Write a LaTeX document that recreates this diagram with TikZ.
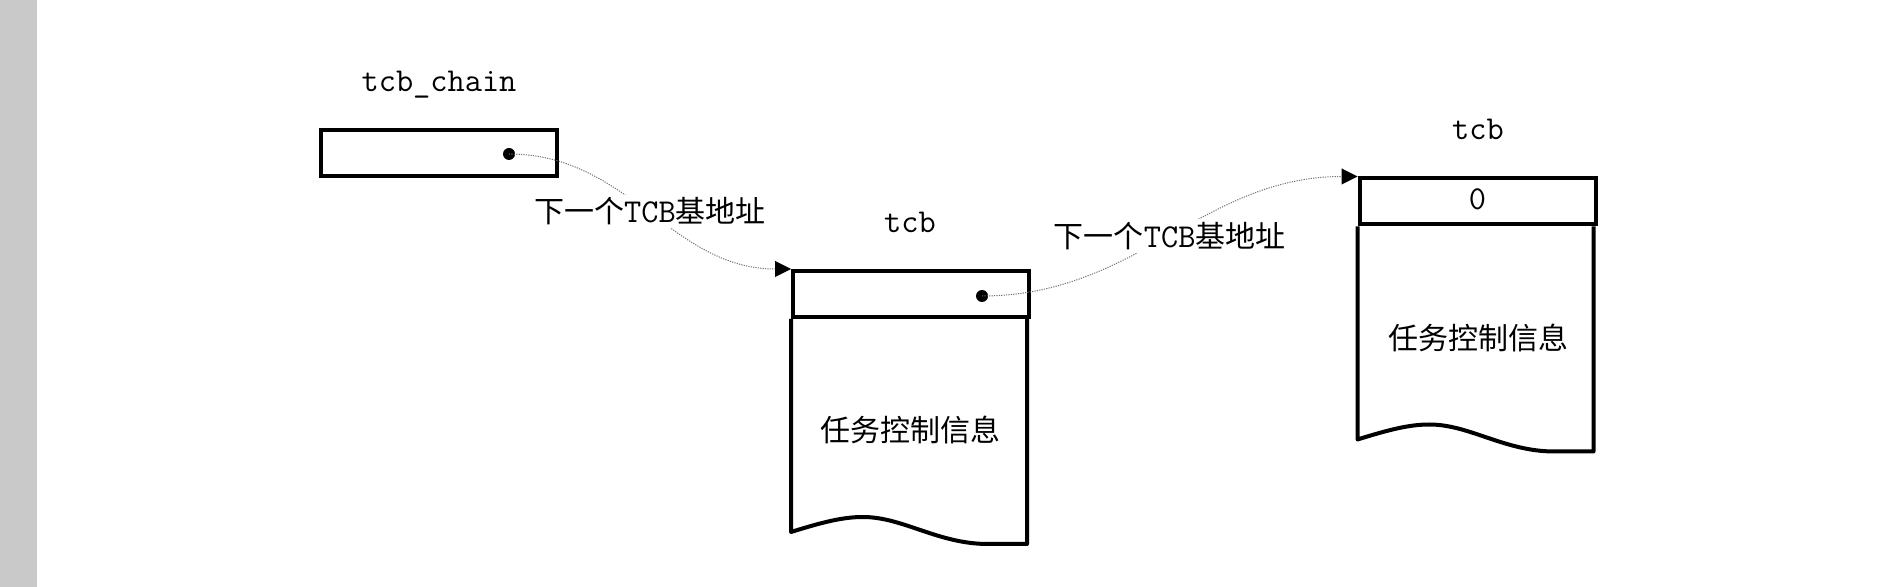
\documentclass[tikz,border=0pt]{standalone}
\usepackage{fontspec}
\newfontfamily\cjk{Noto Sans CJK SC}
\usetikzlibrary{arrows.meta,positioning,calc}
\tikzset{
	field/.style={draw=black, line width=2pt, minimum width=118pt, minimum height=23pt, inner sep=0pt},
	body/.style={draw=black, line width=2pt, line join=round},
	dot/.style={circle, fill=black, minimum size=6pt, inner sep=0pt},
	link/.style={draw=black!55, line width=0.5pt, dash pattern=on 0.6pt off 0.6pt, -{Triangle[length=8pt,width=8pt,color=black]}},
	mono/.style={font=\ttfamily\fontsize{16.7}{19}\selectfont},
	info/.style={font=\cjk\fontsize{15}{18}\selectfont},
	lbl/.style={fill=white, inner sep=1.5pt, font=\fontsize{15}{18}\selectfont},
}
% body of a tcb below its header field
\newcommand{\tcbbody}[1]{
	\begin{scope}[shift={(#1.south west)}]
		\draw[body] (0,0) -- (0,213) .. controls (32,203) and (52,198) .. (72,198)
			.. controls (112,198) and (147,225) .. (197,225) -- (236,225) -- (236,0);
	\end{scope}
}

\begin{document}
\begin{tikzpicture}[x=0.5pt, y=-0.5pt]
	\useasboundingbox (0,0) rectangle (1880,587);
	\fill[black!21] (0,0) rectangle (37,587);

	\node[field] (chain)at(438.5,153){};
	\node[field] (hdrA)at(911,294){};
	\node[field] (hdrB)at(1477.5,201.5){};
	\tcbbody{hdrA}
	\tcbbody{hdrB}

	\node[mono, anchor=base] (chainname)at(439,92){tcb\_chain};
	\node[mono, anchor=base] (nameA)at(910,233){tcb};
	\node[mono, anchor=base] (nameB)at(1478,140){tcb};
	\node[mono, anchor=base] (zero)at(hdrB.center |- 0,210){0};
	\node[info] (infoA)at(910,430){任务控制信息};
	\node[info] (infoB)at(1478,338){任务控制信息};

	\node[dot] (ptrA)at(509,154){};
	\node[dot] (ptrB)at(982,296){};

	\draw[link](ptrA.center) to [out=0, in=180] node[lbl] (nextA) {{\cjk 下一个}{\ttfamily\fontsize{16.7}{18}\selectfont TCB}{\cjk 基地址}} (hdrA.north west);
	\draw[link](ptrB.center) to [out=0, in=180] node[lbl] (nextB) {{\cjk 下一个}{\ttfamily\fontsize{16.7}{18}\selectfont TCB}{\cjk 基地址}} (hdrB.north west);
\end{tikzpicture}
\end{document}
